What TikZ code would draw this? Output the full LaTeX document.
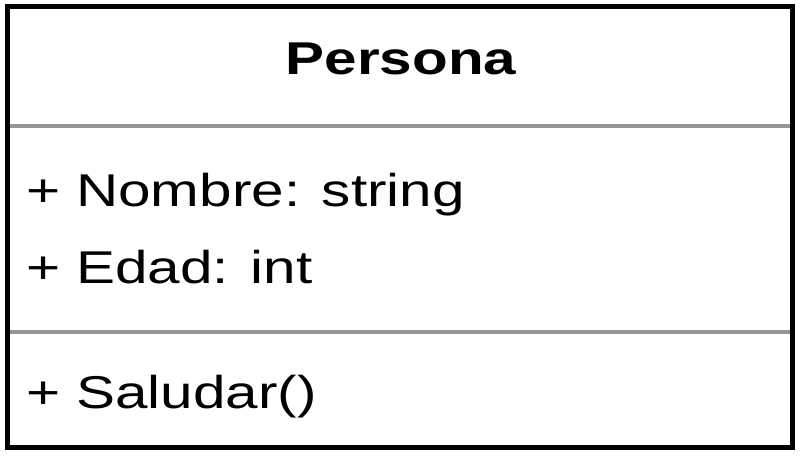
\documentclass[tikz,border=0pt]{standalone}
\usepackage{fontspec}
\setmainfont[FakeStretch=1.27]{Liberation Sans}
\definecolor{sepgray}{RGB}{150,150,150}
\tikzset{
  umltext/.style={inner sep=0pt, outer sep=0pt, font=\fontsize{46}{50}\selectfont},
  border/.style={draw=black, line width=5pt},
  sepline/.style={draw=sepgray, line width=4pt},
}
\begin{document}
\begin{tikzpicture}[x=1pt,y=1pt]
\useasboundingbox (0,0) rectangle (800,457);
\fill[white] (0,0) rectangle (800,457);
% class box
\coordinate (bl) at (7.5,9.5);
\coordinate (tr) at (792.5,450.5);
\draw[border] (bl) rectangle (tr);
% separators
\coordinate (s1l) at (10,330.5);
\coordinate (s1r) at (790,330.5);
\coordinate (s2l) at (10,124.5);
\coordinate (s2r) at (790,124.5);
\draw[sepline] (s1l) -- (s1r);
\draw[sepline] (s2l) -- (s2r);
% texts
\node[umltext, anchor=base, font=\fontsize{46}{50}\selectfont\bfseries] (title) at (401,382) {Persona};
\node[umltext, anchor=base west] (attr1) at (26,250) {+ Nombre: string};
\node[umltext, anchor=base west] (attr2) at (26,173) {+ Edad: int};
\node[umltext, anchor=base west] (op1) at (26,48) {+ Saludar()};
\end{tikzpicture}
\end{document}
